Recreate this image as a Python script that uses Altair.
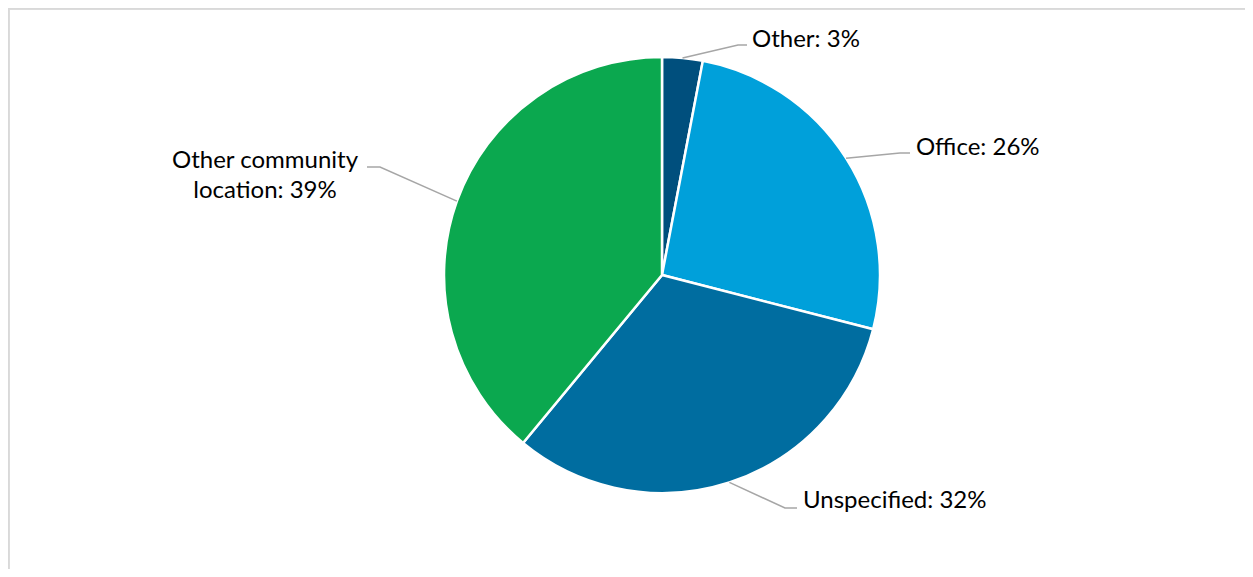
import math
import altair as alt
import pandas as pd

# ---- data ----
categories = ["Other", "Office", "Unspecified", "Other community location"]
values = [3, 26, 32, 39]
labels = ["Other: 3%", "Office: 26%", "Unspecified: 32%", "Other community\nlocation: 39%"]
colors = ["#004F7D", "#00A0DA", "#006DA0", "#0BA84F"]

# ---- layout (image pixel coordinates) ----
W, H = 1237, 561
OFF = 8
CX, CY, R = 662, 275, 218
label_pos = {  # text anchor x, baseline y, align
    "Other": (752, 47, "left"),
    "Office": (916, 155, "left"),
    "Unspecified": (803, 508, "left"),
    "Other community location": (265, 168, "center"),
}
leader_mid = {  # elbow point and end point of leader line
    "Other": [(738, 45), (747, 45)],
    "Office": [(900, 153), (910, 153)],
    "Unspecified": [(785, 508), (797, 508)],
    "Other community location": [(380, 167), (367, 167)],
}

total = sum(values)
pie_df = pd.DataFrame({
    "cat": categories, "val": values, "order": list(range(len(values))),
    "cx": [CX] * 4, "cy": [CY] * 4,
})

lead_rows = []
cum = 0
for c, v in zip(categories, values):
    mid = (cum + v / 2) / total * 2 * math.pi
    cum += v
    sx = CX + R * math.sin(mid)
    sy = CY - R * math.cos(mid)
    pts = [(sx, sy)] + leader_mid[c]
    for i, (px, py) in enumerate(pts):
        lead_rows.append({"cat": c, "i": i, "x": px, "y": py})
lead_df = pd.DataFrame(lead_rows)

text_df = pd.DataFrame({
    "cat": categories,
    "label": labels,
    "x": [label_pos[c][0] for c in categories],
    "y": [label_pos[c][1] for c in categories],
    "align": [label_pos[c][2] for c in categories],
})

xs = alt.Scale(domain=[OFF, OFF + W], range=[0, W])
ys = alt.Scale(domain=[OFF, OFF + H], range=[0, H])

pie = alt.Chart(pie_df).mark_arc(outerRadius=R, stroke="white", strokeWidth=2.5).encode(
    theta=alt.Theta("val:Q", stack=True),
    color=alt.Color("cat:N", scale=alt.Scale(domain=categories, range=colors), legend=None),
    order=alt.Order("order:Q"),
    x=alt.X("cx:Q", scale=xs, axis=None),
    y=alt.Y("cy:Q", scale=ys, axis=None),
)

leaders = alt.Chart(lead_df).mark_line(color="#A6A6A6", strokeWidth=1.5).encode(
    x=alt.X("x:Q", scale=xs, axis=None),
    y=alt.Y("y:Q", scale=ys, axis=None),
    detail="cat:N",
    order="i:Q",
)

font = "Lato"
fs = 24
txt_left = alt.Chart(text_df[text_df["align"] == "left"]).mark_text(
    align="left", baseline="alphabetic", font=font, fontSize=fs, color="#000000"
).encode(
    x=alt.X("x:Q", scale=xs, axis=None),
    y=alt.Y("y:Q", scale=ys, axis=None),
    text="label:N",
)
txt_center = alt.Chart(text_df[text_df["align"] == "center"]).mark_text(
    align="center", baseline="alphabetic", font=font, fontSize=fs, color="#000000",
    lineBreak="\n", lineHeight=30,
).encode(
    x=alt.X("x:Q", scale=xs, axis=None),
    y=alt.Y("y:Q", scale=ys, axis=None),
    text="label:N",
)

border_top = alt.Chart(pie_df).mark_rule(color="#D9D9D9", strokeWidth=1.5).encode(
    x=alt.value(0), x2=alt.value(W), y=alt.value(0.75)
)
border_left = alt.Chart(pie_df).mark_rule(color="#D9D9D9", strokeWidth=1.5).encode(
    x=alt.value(0.75), y=alt.value(0), y2=alt.value(H)
)

chart = alt.layer(border_top, border_left, pie, leaders, txt_left, txt_center).properties(
    width=W, height=H, padding=0, autosize=alt.AutoSizeParams(type="none")
).configure_view(stroke=None).configure(background="white")

chart.save("out.html", embed_options={"renderer": "svg", "actions": False})
